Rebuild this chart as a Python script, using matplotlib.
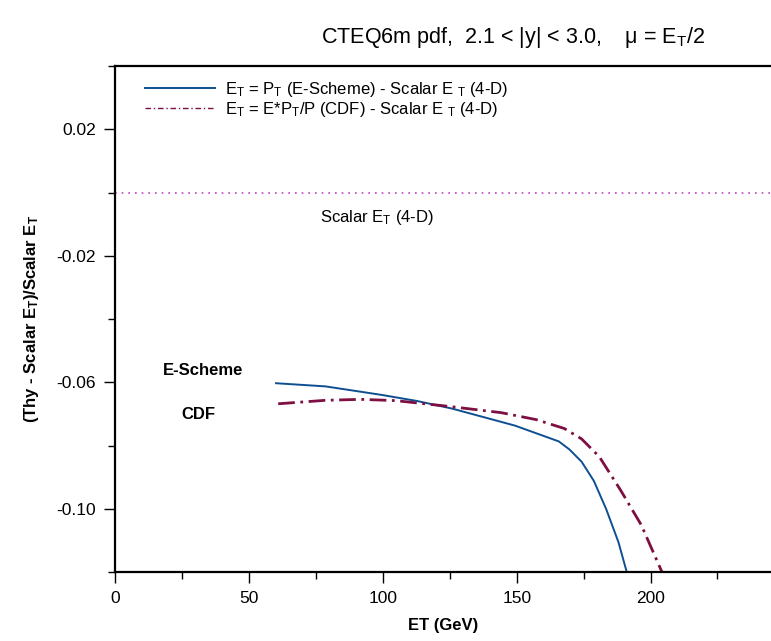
import numpy as np
import matplotlib
matplotlib.use("Agg")
import matplotlib.pyplot as plt
from matplotlib.ticker import MultipleLocator, FixedLocator

plt.rcParams['font.family'] = ['Liberation Sans', 'DejaVu Sans']
plt.rcParams['mathtext.fontset'] = 'custom'
plt.rcParams['mathtext.rm'] = 'Liberation Sans'
plt.rcParams['mathtext.it'] = 'Liberation Sans:italic'
plt.rcParams['mathtext.bf'] = 'Liberation Sans:bold'

# E-Scheme curve (E_T = P_T) relative to scalar E_T
et_escheme = [60, 78.5, 99.5, 112.6, 125.7, 149.3, 165.7, 169.6, 174.2, 178.8, 183.4, 188, 192]
dev_escheme = [-0.0603, -0.0613, -0.0640, -0.0659, -0.0683, -0.0737, -0.0787, -0.0812,
               -0.0851, -0.0912, -0.1001, -0.1106, -0.1228]

# CDF curve (E_T = E*P_T/P) relative to scalar E_T
et_cdf = [60.8, 78.5, 91.6, 104.7, 124.4, 144.1, 157.2, 167.7, 174.2, 180.8, 188.7, 196.5, 205.7]
dev_cdf = [-0.0668, -0.0657, -0.0654, -0.0658, -0.0676, -0.0696, -0.0718, -0.0746,
           -0.0779, -0.0835, -0.0940, -0.1051, -0.1228]

# reference line (scalar E_T itself)
et_ref = [0, 245]
dev_ref = [0.0, 0.0]

xmajor = [0, 50, 100, 150, 200]
ymajor = [0.02, -0.02, -0.06, -0.10]
ylabels = ['0.02', '-0.02', '-0.06', '-0.10']

fig = plt.figure(figsize=(7.71, 6.41), dpi=100)
ax = fig.add_axes([0.1498, 0.1076, 0.8502, 0.7894])

ax.plot(et_ref, dev_ref, color='#c040c0', lw=1.2, ls=(0, (1, 3)))
ax.plot(et_escheme, dev_escheme, color='#0d4f91', lw=1.4,
        label=r'E$_{\rm T}$ = P$_{\rm T}$ (E-Scheme) - Scalar E $_{\rm T}$ (4-D)')
ax.plot(et_cdf, dev_cdf, color='#7d0f42', lw=2.0, dashes=(6, 2, 1, 2),
        label=r'E$_{\rm T}$ = E*P$_{\rm T}$/P (CDF) - Scalar E $_{\rm T}$ (4-D)')

ax.set_xlim(0, 245)
ax.set_ylim(-0.12, 0.04)

ax.xaxis.set_major_locator(FixedLocator(xmajor))
ax.xaxis.set_minor_locator(MultipleLocator(25))
ax.yaxis.set_major_locator(FixedLocator(ymajor))
ax.set_yticklabels(ylabels)
ax.yaxis.set_minor_locator(FixedLocator([0.04, 0.0, -0.04, -0.08, -0.12]))
ax.tick_params(which='major', direction='out', length=8, width=1, labelsize=12.5, pad=6)
ax.tick_params(which='minor', direction='out', length=5, width=1)

for s in ['left', 'bottom', 'top']:
    ax.spines[s].set_linewidth(1.6)
ax.spines['right'].set_visible(False)

ax.set_xlabel('ET (GeV)', fontsize=12, fontweight='bold', labelpad=8)
ax.set_ylabel(r'(Thy - Scalar E$_\mathbf{T}$)/Scalar E$_\mathbf{T}$', fontsize=12,
              fontweight='bold', labelpad=11)

ax.text(76.5, -0.008, r'Scalar E$_{\rm T}$ (4-D)', fontsize=12, ha='left', va='center')
ax.text(17.8, -0.0564, 'E-Scheme', fontsize=12, fontweight='bold', ha='left', va='center')
ax.text(24.7, -0.0702, 'CDF', fontsize=12, fontweight='bold', ha='left', va='center')

leg = ax.legend(loc='upper left', bbox_to_anchor=(0.035, 0.985), frameon=False,
                fontsize=12, handlelength=4.2, handletextpad=0.6, labelspacing=0.05,
                borderaxespad=0)
leg.get_lines()[1].set_linewidth(1.0)
leg.get_lines()[1].set_dashes((4, 2, 1, 2))

fig.text(513 / 771, 1 - 38 / 641, 'CTEQ6m pdf,  2.1 < |y| < 3.0,    μ = E$_{\\rm T}$/2',
         fontsize=15.5, ha='center', va='center')

fig.savefig('out.png', dpi=100)
